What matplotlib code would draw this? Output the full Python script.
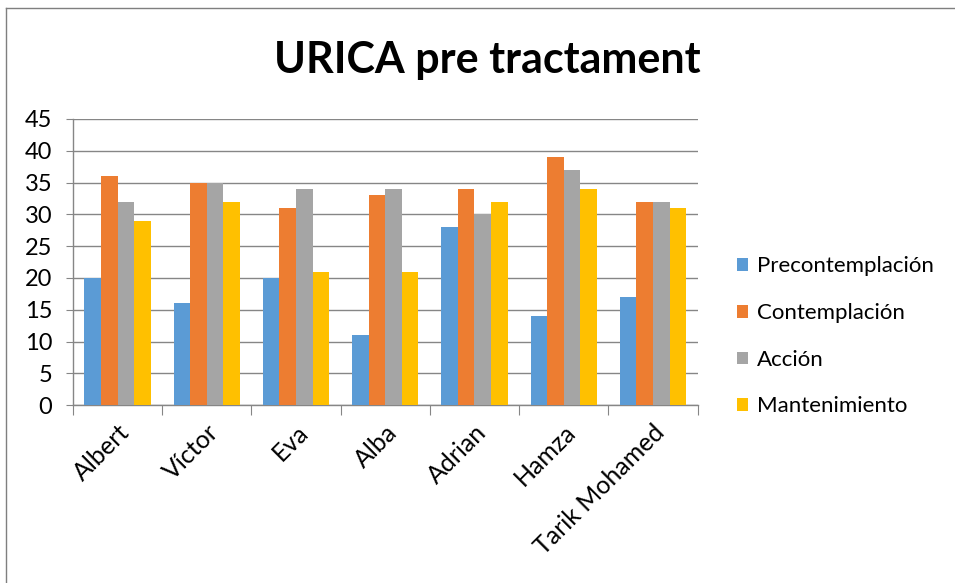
import numpy as np
import matplotlib
matplotlib.use('Agg')
import matplotlib.pyplot as plt
from matplotlib.lines import Line2D

plt.rcParams['font.family'] = ['Lato', 'DejaVu Sans']

NAMES = ['Albert', 'Víctor', 'Eva', 'Alba', 'Adrian', 'Hamza', 'Tarik Mohamed']
SERIES = ['Precontemplación', 'Contemplación', 'Acción', 'Mantenimiento']
precontemplacion = [20, 16, 20, 11, 28, 14, 17]
contemplacion = [36, 35, 31, 33, 34, 39, 32]
accion = [32, 35, 34, 34, 30, 37, 32]
mantenimiento = [29, 32, 21, 21, 32, 34, 31]
COLORS = ['#5B9BD5', '#ED7D31', '#A5A5A5', '#FFC000']

fig = plt.figure(figsize=(9.55, 5.83), dpi=100)
ax = fig.add_axes([0.0764, 0.305, 0.654, 0.491])

x = np.arange(len(NAMES))
width = 0.186
for i, (vals, lab, col) in enumerate(zip(
        [precontemplacion, contemplacion, accion, mantenimiento], SERIES, COLORS)):
    ax.bar(x + (i - 1.5) * width, vals, width, label=lab, color=col, zorder=3)

ax.set_xlim(-0.5, len(NAMES) - 0.5)
ax.set_ylim(0, 45)
ax.set_yticks(range(0, 46, 5))
ax.tick_params(axis='y', labelsize=17, length=5, color='#868686', pad=10)
ax.grid(axis='y', color='#868686', linewidth=1, zorder=0)

# x ticks at group boundaries, labels at centres
ax.set_xticks(np.arange(-0.5, len(NAMES), 1.0))
ax.set_xticklabels([])
ax.tick_params(axis='x', length=7, color='#868686')
ax.set_xticks(x, minor=True)
ax.set_xticklabels(NAMES, minor=True, rotation=45, ha='right',
                   rotation_mode='anchor', fontsize=18)
ax.tick_params(axis='x', which='minor', length=0, pad=11)

for s in ['top', 'right']:
    ax.spines[s].set_visible(False)
for s in ['left', 'bottom']:
    ax.spines[s].set_color('#868686')
    ax.spines[s].set_linewidth(1)

fig.text(0.51, 0.897, 'URICA pre tractament', ha='center', va='center',
         fontsize=31, fontweight='bold')

ax.legend(loc='center left', bbox_to_anchor=(0.772, 0.423),
          bbox_transform=fig.transFigure, frameon=False, fontsize=16,
          handlelength=0.5, handleheight=0.5, handletextpad=0.4,
          labelspacing=1.2, borderaxespad=0, borderpad=0)

# frame edges of the original screenshot
fig.add_artist(Line2D([0.006, 1.0], [0.986, 0.986], color='#7F7F7F', linewidth=1))
fig.add_artist(Line2D([0.006, 0.006], [0.0, 0.986], color='#7F7F7F', linewidth=1))

fig.savefig('out.png', dpi=100)
